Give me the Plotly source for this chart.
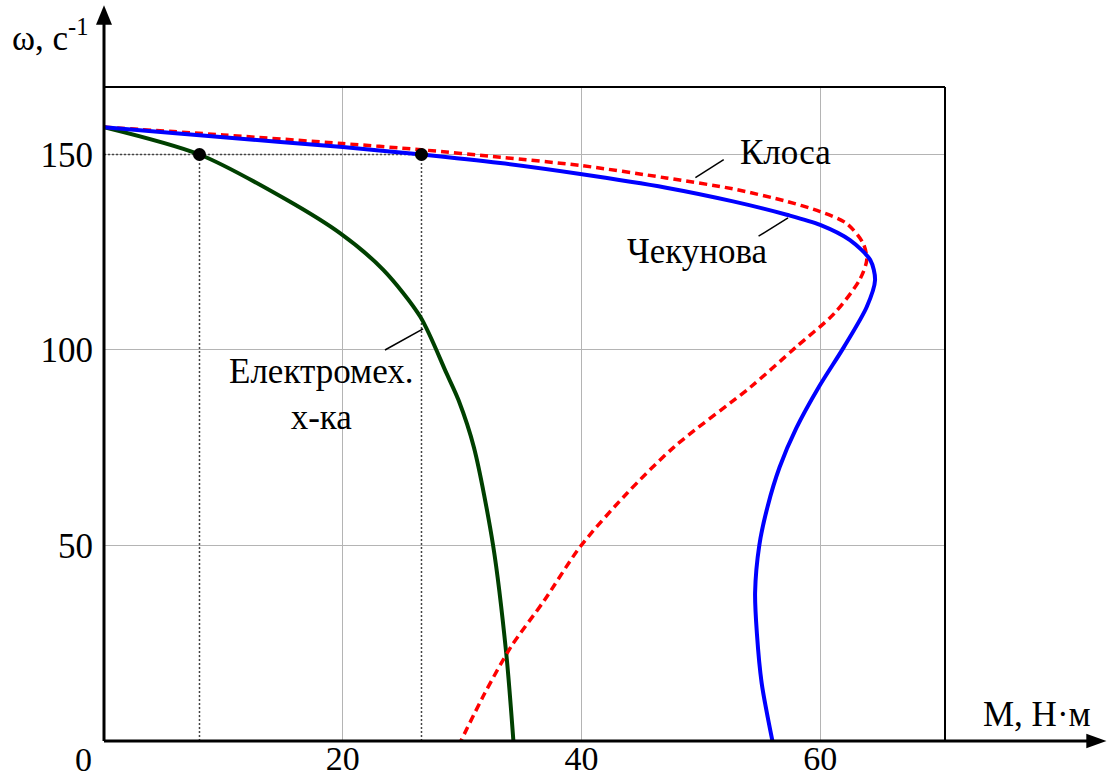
import plotly.graph_objects as go

# Механічні характеристики асинхронного двигуна (M, Н·м; ω, с^-1)
chek_M = [0, 10, 20, 26.6, 33.2, 39.9, 47.1, 52.7, 57.2, 60.0, 62.5, 64.2, 64.6,
          63.9, 62.0, 59.9, 58.0, 56.6, 55.6, 54.9, 54.55, 54.7, 55.1, 56.0]
chek_w = [157, 154.4, 151.9, 150, 147.8, 145.0, 141.5, 138.0, 134.6, 132.0, 128.1, 123.0, 117.9,
          111.0, 100.8, 90.6, 80.0, 70.0, 60.0, 50.0, 38.0, 27.5, 14.8, 0]

klos_M = [0, 10, 20, 26.6, 33.2, 39.9, 47.1, 52.7, 57.2, 60.0, 62.2, 63.6, 63.9,
          63.3, 61.2, 58.0, 54.2, 47.8, 43.8, 39.9, 36.9, 34.1, 31.9, 29.9]
klos_w = [157, 155.0, 152.8, 151.2, 149.3, 147.2, 144.0, 141.2, 138.0, 135.4, 132.4, 127.3, 123.0,
          117.9, 109.4, 100.8, 90.6, 75.3, 63.3, 49.7, 36.0, 24.1, 12.2, 0]

# Електромеханічна характеристика
el_M = [0, 8.0, 15.3, 19.8, 23.4, 26.5, 28.7, 29.7, 31.0, 32.6, 33.7, 34.3]
el_w = [157, 150, 138.4, 129.8, 120.5, 108.5, 94.0, 87.2, 75.0, 50.0, 22.4, 0]

# Робочі точки при ω = 150 с^-1
pt_M = [8.0, 26.6]
pt_w = [150, 150]

x_ticks = [20, 40, 60]
y_ticks = [50, 100, 150]

FONT = "Liberation Serif"
FS = 35

fig = go.Figure()

# допоміжні пунктирні лінії до робочих точок
fig.add_trace(go.Scatter(x=[0, pt_M[1]], y=[pt_w[1], pt_w[1]], mode="lines",
                         line=dict(color="#444444", width=1.5, dash="2px,2px"), hoverinfo="skip"))
for m, w in zip(pt_M, pt_w):
    fig.add_trace(go.Scatter(x=[m, m], y=[0, w], mode="lines",
                             line=dict(color="#444444", width=1.5, dash="2px,2px"), hoverinfo="skip"))

fig.add_trace(go.Scatter(x=el_M, y=el_w, mode="lines", name="Електромех. х-ка",
                         line=dict(color="#004000", width=4, shape="spline", smoothing=0.8)))
fig.add_trace(go.Scatter(x=klos_M, y=klos_w, mode="lines", name="Клоса",
                         line=dict(color="#ff0000", width=3.5, dash="8px,5px", shape="spline", smoothing=0.8)))
fig.add_trace(go.Scatter(x=chek_M, y=chek_w, mode="lines", name="Чекунова",
                         line=dict(color="#0000ff", width=4, shape="spline", smoothing=0.8)))
fig.add_trace(go.Scatter(x=pt_M, y=pt_w, mode="markers",
                         marker=dict(color="black", size=13)))

X_MAX = 70.46
Y_MAX = 167.26

axis_common = dict(showgrid=True, gridcolor="#b4b4b4", gridwidth=1, zeroline=False,
                   showline=False, ticks="", automargin=False)
fig.update_xaxes(range=[0, X_MAX], tickvals=x_ticks, ticktext=[str(v) for v in x_ticks],
                 ticklabelstandoff=-6, tickfont=dict(family=FONT, size=34, color="black"),
                 **axis_common)
fig.update_yaxes(range=[0, Y_MAX], tickvals=y_ticks, ticktext=[str(v) for v in y_ticks],
                 ticklabelstandoff=10, tickfont=dict(family=FONT, size=FS, color="black"),
                 **axis_common)

shapes = [
    # рамка поля графіка (верх і право)
    dict(type="line", xref="paper", yref="paper", x0=0, y0=1, x1=1, y1=1,
         line=dict(color="black", width=2)),
    dict(type="line", xref="paper", yref="paper", x0=1, y0=0, x1=1, y1=1,
         line=dict(color="black", width=2)),
    # осі зі стрілками
    dict(type="line", xref="paper", yref="paper", x0=0, y0=0, x1=0, y1=1.105,
         line=dict(color="black", width=3)),
    dict(type="path", xref="paper", yref="paper",
         path="M -0.0095 1.095 L 0 1.125 L 0.0095 1.095 Z", fillcolor="black", line=dict(width=0)),
    dict(type="line", xref="paper", yref="paper", x0=0, y0=0, x1=1.175, y1=0,
         line=dict(color="black", width=3)),
    dict(type="path", xref="paper", yref="paper",
         path="M 1.168 0.011 L 1.192 0 L 1.168 -0.011 Z", fillcolor="black", line=dict(width=0)),
    # виноски підписів кривих
    dict(type="line", x0=49.55, y0=144.1, x1=51.92, y1=148.7, line=dict(color="black", width=1.5)),
    dict(type="line", x0=54.84, y0=129.1, x1=57.31, y1=133.8, line=dict(color="black", width=1.5)),
    dict(type="line", x0=23.54, y0=100.0, x1=26.73, y1=105.4, line=dict(color="black", width=1.5)),
]

txt = dict(family=FONT, size=FS, color="black")
annotations = [
    dict(x=57.06, y=150.4, text="Клоса", showarrow=False, font=txt),
    dict(x=49.69, y=125.3, text="Чекунова", showarrow=False, font=txt),
    dict(x=18.18, y=88.6, text="Електромех.<br>х-ка", showarrow=False, font=txt),
    dict(x=0, y=0, text="0", showarrow=False, font=dict(family=FONT, size=34, color="black"),
         xanchor="right", yanchor="top", xshift=-10, yshift=2),
    dict(x=1.109, y=0.041, xref="paper", yref="paper", text="М, Н·м", showarrow=False, font=txt,
         xanchor="center", yanchor="middle"),
    dict(x=-0.064, y=1.0795, xref="paper", yref="paper", text="ω, с<sup>-1</sup>",
         showarrow=False, font=txt, xanchor="center", yanchor="middle"),
]

fig.update_layout(
    width=1109, height=778,
    margin=dict(l=104, r=164, t=87, b=37),
    paper_bgcolor="white", plot_bgcolor="white",
    showlegend=False,
    shapes=shapes, annotations=annotations,
)

fig.write_html("out.html")
